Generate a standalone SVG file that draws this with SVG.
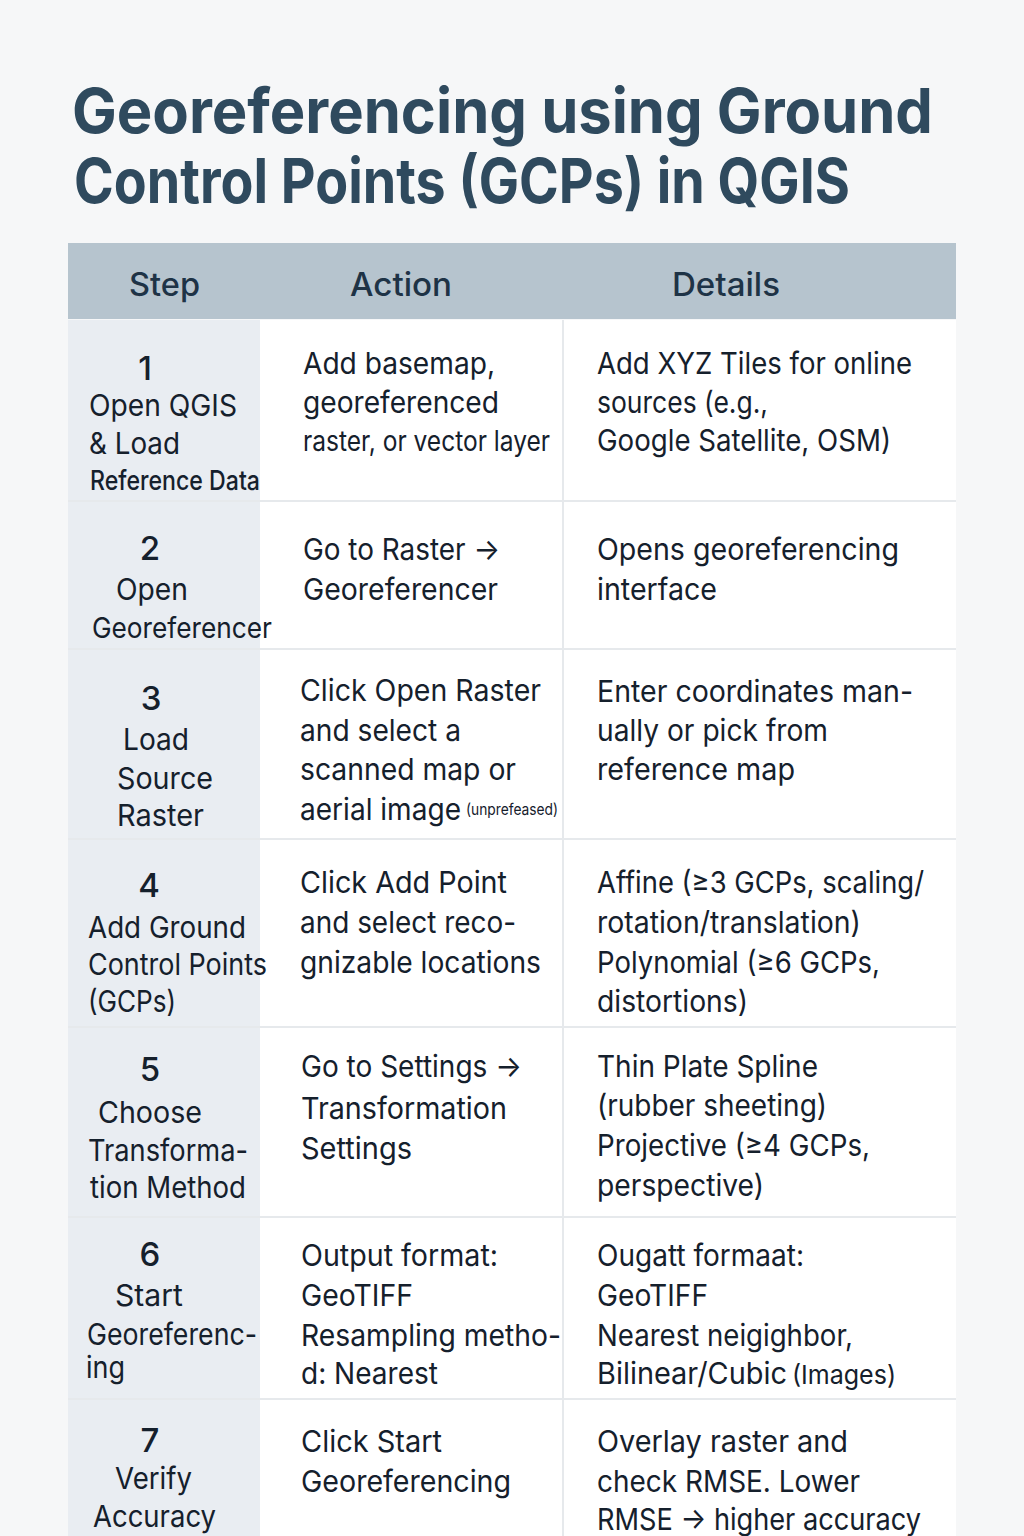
<svg xmlns="http://www.w3.org/2000/svg" width="1024" height="1536" viewBox="0 0 1024 1536">
<style>
.t{font-family:Inter,"Liberation Sans",sans-serif;fill:#15202c;font-size:30px}
.n{font-family:Inter,"Liberation Sans",sans-serif;fill:#15202c;font-size:33px;font-weight:500;text-anchor:middle}
.h{font-family:Inter,"Liberation Sans",sans-serif;fill:#1e3346;font-size:32px;font-weight:500}
.title{font-family:Inter,"Liberation Sans",sans-serif;fill:#2f4a5e;font-size:62px;font-weight:700}
.sm{font-size:16px}
.c1{fill:#e9edf2}
.c2{fill:#ffffff}
.ln{stroke:#e6e9ec;stroke-width:2;fill:none}
</style>
<rect width="1024" height="1536" fill="#f6f7f8"/>
<g id="title">
<text class="title" x="72" y="133" textLength="861" lengthAdjust="spacingAndGlyphs">Georeferencing using Ground</text>
<text class="title" x="74" y="203" textLength="776" lengthAdjust="spacingAndGlyphs">Control Points (GCPs) in QGIS</text>
</g>
<g id="table-bg">
<rect x="68" y="320" width="192" height="1216" class="c1"/>
<rect x="260" y="320" width="696" height="1216" class="c2"/>
</g>
<g id="header">
<rect x="68" y="243" width="888" height="76" fill="#b6c4ce"/>
<text class="h" x="129" y="296" textLength="71" lengthAdjust="spacingAndGlyphs">Step</text>
<text class="h" x="350" y="296" textLength="102" lengthAdjust="spacingAndGlyphs">Action</text>
<text class="h" x="672" y="296" textLength="108" lengthAdjust="spacingAndGlyphs">Details</text>
</g>
<g id="grid">
<line class="ln" x1="563" y1="320" x2="563" y2="1536"/>
<line class="ln" x1="68" y1="501" x2="956" y2="501"/>
<line class="ln" x1="68" y1="649" x2="956" y2="649"/>
<line class="ln" x1="68" y1="839" x2="956" y2="839"/>
<line class="ln" x1="68" y1="1027" x2="956" y2="1027"/>
<line class="ln" x1="68" y1="1217" x2="956" y2="1217"/>
<line class="ln" x1="68" y1="1399" x2="956" y2="1399"/>
</g>
<g id="row1">
<text class="n" x="145" y="380">1</text>
<text class="t" x="89" y="416" textLength="148" lengthAdjust="spacingAndGlyphs">Open QGIS</text>
<text class="t" x="89" y="454" textLength="91" lengthAdjust="spacingAndGlyphs">&amp; Load</text>
<text class="t" x="90" y="490" textLength="170" lengthAdjust="spacingAndGlyphs" style="font-size:27px;font-weight:500">Reference Data</text>
<text class="t" x="303" y="374" textLength="192" lengthAdjust="spacingAndGlyphs">Add basemap,</text>
<text class="t" x="303" y="413" textLength="196" lengthAdjust="spacingAndGlyphs">georeferenced</text>
<text class="t" x="303" y="451" textLength="247" lengthAdjust="spacingAndGlyphs" style="font-size:28px">raster, or vector layer</text>
<text class="t" x="597" y="374" textLength="315" lengthAdjust="spacingAndGlyphs">Add XYZ Tiles for online</text>
<text class="t" x="597" y="413" textLength="171" lengthAdjust="spacingAndGlyphs">sources (e.g.,</text>
<text class="t" x="597" y="451" textLength="294" lengthAdjust="spacingAndGlyphs">Google Satellite, OSM)</text>
</g>
<g id="row2">
<text class="n" x="150" y="560">2</text>
<text class="t" x="116" y="600" textLength="72" lengthAdjust="spacingAndGlyphs">Open</text>
<text class="t" x="92" y="638" textLength="180" lengthAdjust="spacingAndGlyphs" style="font-size:28px">Georeferencer</text>
<text class="t" x="303" y="560" textLength="197" lengthAdjust="spacingAndGlyphs">Go to Raster →</text>
<text class="t" x="303" y="600" textLength="195" lengthAdjust="spacingAndGlyphs">Georeferencer</text>
<text class="t" x="597" y="560" textLength="302" lengthAdjust="spacingAndGlyphs">Opens georeferencing</text>
<text class="t" x="597" y="600" textLength="120" lengthAdjust="spacingAndGlyphs">interface</text>
</g>
<g id="row3">
<text class="n" x="151" y="710">3</text>
<text class="t" x="123" y="750" textLength="66" lengthAdjust="spacingAndGlyphs">Load</text>
<text class="t" x="117" y="789" textLength="96" lengthAdjust="spacingAndGlyphs">Source</text>
<text class="t" x="117" y="826" textLength="87" lengthAdjust="spacingAndGlyphs">Raster</text>
<text class="t" x="300" y="701" textLength="241" lengthAdjust="spacingAndGlyphs">Click Open Raster</text>
<text class="t" x="300" y="741" textLength="161" lengthAdjust="spacingAndGlyphs">and select a</text>
<text class="t" x="300" y="780" textLength="216" lengthAdjust="spacingAndGlyphs">scanned map or</text>
<text class="t" x="300" y="820" textLength="161" lengthAdjust="spacingAndGlyphs">aerial image</text>
<text class="t sm" x="466" y="815" textLength="92" lengthAdjust="spacingAndGlyphs">(unprefeased)</text>
<text class="t" x="597" y="702" textLength="316" lengthAdjust="spacingAndGlyphs">Enter coordinates man-</text>
<text class="t" x="597" y="741" textLength="231" lengthAdjust="spacingAndGlyphs">ually or pick from</text>
<text class="t" x="597" y="780" textLength="198" lengthAdjust="spacingAndGlyphs">reference map</text>
</g>
<g id="row4">
<text class="n" x="149" y="897">4</text>
<text class="t" x="88" y="938" textLength="158" lengthAdjust="spacingAndGlyphs">Add Ground</text>
<text class="t" x="88" y="975" textLength="179" lengthAdjust="spacingAndGlyphs">Control Points</text>
<text class="t" x="88" y="1012" textLength="88" lengthAdjust="spacingAndGlyphs">(GCPs)</text>
<text class="t" x="300" y="893" textLength="207" lengthAdjust="spacingAndGlyphs">Click Add Point</text>
<text class="t" x="300" y="933" textLength="216" lengthAdjust="spacingAndGlyphs">and select reco-</text>
<text class="t" x="300" y="973" textLength="241" lengthAdjust="spacingAndGlyphs">gnizable locations</text>
<text class="t" x="597" y="893" textLength="327" lengthAdjust="spacingAndGlyphs">Affine (≥3 GCPs, scaling/</text>
<text class="t" x="597" y="933" textLength="264" lengthAdjust="spacingAndGlyphs">rotation/translation)</text>
<text class="t" x="597" y="973" textLength="283" lengthAdjust="spacingAndGlyphs">Polynomial (≥6 GCPs,</text>
<text class="t" x="597" y="1012" textLength="151" lengthAdjust="spacingAndGlyphs">distortions)</text>
</g>
<g id="row5">
<text class="n" x="150" y="1081">5</text>
<text class="t" x="98" y="1123" textLength="104" lengthAdjust="spacingAndGlyphs">Choose</text>
<text class="t" x="88" y="1161" textLength="160" lengthAdjust="spacingAndGlyphs">Transforma-</text>
<text class="t" x="90" y="1198" textLength="156" lengthAdjust="spacingAndGlyphs">tion Method</text>
<text class="t" x="301" y="1077" textLength="221" lengthAdjust="spacingAndGlyphs">Go to Settings →</text>
<text class="t" x="301" y="1119" textLength="206" lengthAdjust="spacingAndGlyphs">Transformation</text>
<text class="t" x="301" y="1159" textLength="111" lengthAdjust="spacingAndGlyphs">Settings</text>
<text class="t" x="597" y="1077" textLength="221" lengthAdjust="spacingAndGlyphs">Thin Plate Spline</text>
<text class="t" x="597" y="1116" textLength="230" lengthAdjust="spacingAndGlyphs">(rubber sheeting)</text>
<text class="t" x="597" y="1156" textLength="273" lengthAdjust="spacingAndGlyphs">Projective (≥4 GCPs,</text>
<text class="t" x="597" y="1196" textLength="167" lengthAdjust="spacingAndGlyphs">perspective)</text>
</g>
<g id="row6">
<text class="n" x="150" y="1266">6</text>
<text class="t" x="115" y="1306" textLength="68" lengthAdjust="spacingAndGlyphs">Start</text>
<text class="t" x="87" y="1345" textLength="170" lengthAdjust="spacingAndGlyphs">Georeferenc-</text>
<text class="t" x="86" y="1378" textLength="39" lengthAdjust="spacingAndGlyphs">ing</text>
<text class="t" x="301" y="1266" textLength="197" lengthAdjust="spacingAndGlyphs">Output format:</text>
<text class="t" x="301" y="1306" textLength="112" lengthAdjust="spacingAndGlyphs">GeoTIFF</text>
<text class="t" x="301" y="1346" textLength="260" lengthAdjust="spacingAndGlyphs">Resampling metho-</text>
<text class="t" x="301" y="1384" textLength="137" lengthAdjust="spacingAndGlyphs">d: Nearest</text>
<text class="t" x="597" y="1266" textLength="207" lengthAdjust="spacingAndGlyphs">Ougatt formaat:</text>
<text class="t" x="597" y="1306" textLength="111" lengthAdjust="spacingAndGlyphs">GeoTIFF</text>
<text class="t" x="597" y="1346" textLength="256" lengthAdjust="spacingAndGlyphs">Nearest neigighbor,</text>
<text class="t" x="597" y="1384" textLength="190" lengthAdjust="spacingAndGlyphs">Bilinear/Cubic</text>
<text class="t" x="792" y="1384" textLength="104" lengthAdjust="spacingAndGlyphs" style="font-size:26px">(Images)</text>
</g>
<g id="row7">
<text class="n" x="150" y="1452">7</text>
<text class="t" x="115" y="1489" textLength="77" lengthAdjust="spacingAndGlyphs">Verify</text>
<text class="t" x="93" y="1527" textLength="123" lengthAdjust="spacingAndGlyphs">Accuracy</text>
<text class="t" x="301" y="1452" textLength="141" lengthAdjust="spacingAndGlyphs">Click Start</text>
<text class="t" x="301" y="1492" textLength="210" lengthAdjust="spacingAndGlyphs">Georeferencing</text>
<text class="t" x="597" y="1452" textLength="251" lengthAdjust="spacingAndGlyphs">Overlay raster and</text>
<text class="t" x="597" y="1492" textLength="263" lengthAdjust="spacingAndGlyphs">check RMSE. Lower</text>
<text class="t" x="597" y="1530" textLength="324" lengthAdjust="spacingAndGlyphs">RMSE → higher accuracy</text>
</g>
</svg>
